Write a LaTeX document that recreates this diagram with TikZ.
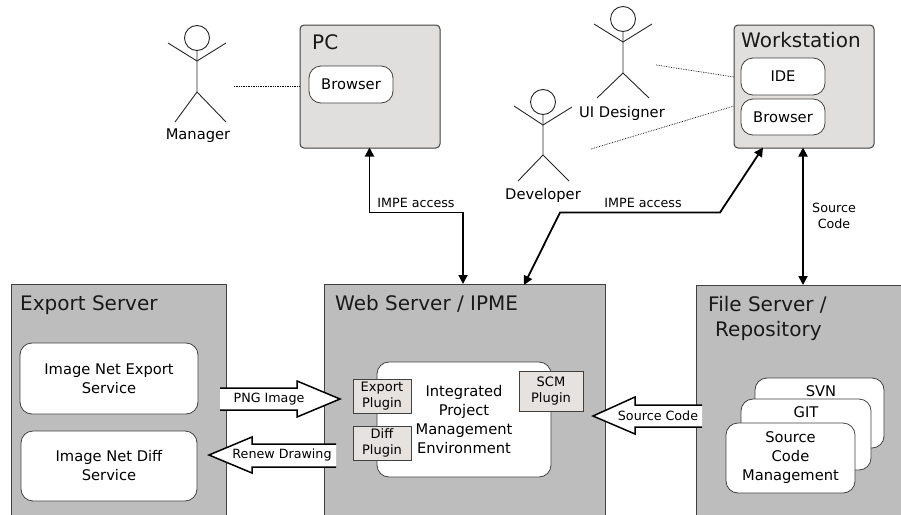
\documentclass[tikz,border=0pt]{standalone}
\usepackage{fontspec}
\setmainfont{DejaVu Sans}
\usetikzlibrary{arrows.meta}
\definecolor{outerfill}{HTML}{BDBDBD}
\definecolor{innerfill}{HTML}{E0DFDD}
\definecolor{plugfill}{HTML}{E6E2E0}
\definecolor{edge}{HTML}{404040}
\tikzset{
  base/.style={inner sep=0pt,outer sep=0pt,anchor=north west,align=center,draw=edge},
  server/.style={base,fill=outerfill,line width=1pt},
  machine/.style={base,fill=innerfill,line width=1pt,rounded corners=4pt},
  service/.style={base,fill=white,line width=0.8pt,rounded corners=12pt,font=\fontsize{14.7}{19}\selectfont},
  plugin/.style={base,fill=plugfill,line width=0.8pt,font=\fontsize{13}{16.5}\selectfont},
  title/.style={inner sep=0pt,anchor=west,align=left,font=\fontsize{20}{25}\selectfont,text=black!90},
  small/.style={inner sep=0pt,align=center,font=\fontsize{12.7}{16.5}\selectfont},
  actorname/.style={inner sep=0pt,font=\fontsize{14.7}{18}\selectfont},
  link/.style={line width=1.8pt,{Triangle[width=9pt,length=9pt]}-{Triangle[width=9pt,length=9pt]}},
  dots/.style={densely dotted,line width=0.7pt},
  limb/.style={line width=0.9pt,draw=black!85},
  block/.style={draw=black,fill=white,line width=1.5pt,line join=miter}
}
\begin{document}
\begin{tikzpicture}[x=1pt,y=-1pt]
\useasboundingbox (0,0) rectangle (901,514);
\clip (0,0) rectangle (901,514);
% servers
\node[server,minimum width=215pt,minimum height=250pt] (exportsrv) at (11,284) {};
\node[server,minimum width=281pt,minimum height=250pt] (websrv) at (324,284) {};
\node[server,minimum width=225pt,minimum height=250pt] (filesrv) at (696,285) {};
\node[title] (exporttitle) at (20,305) {Export Server};
\node[title] (webtitle) at (335,304) {Web Server / IPME};
\node[title] (filetitle) at (708,305) {File Server /};
\node[title] (filetitleb) at (715,331) {Repository};
% export services
\node[service,minimum width=178pt,minimum height=71pt] (exportsvc) at (20,343) {Image Net Export\\Service};
\node[service,minimum width=176pt,minimum height=70pt] (diffsvc) at (21,431) {Image Net Diff\\Service};
% web
\node[service,minimum width=174pt,minimum height=115pt] (ipme) at (377,362) {Integrated\\Project\\Management\\Environment};
\node[plugin,minimum width=58pt,minimum height=34pt] (exportplug) at (353,379) {Export\\Plugin};
\node[plugin,minimum width=58pt,minimum height=34pt] (diffplug) at (353,426) {Diff\\Plugin};
\node[plugin,minimum width=64pt,minimum height=40pt] (scmplug) at (519,371) {SCM\\Plugin};
% file server
\node[service,minimum width=129pt,minimum height=70pt] (svn) at (755,378) {};
\node[inner sep=0pt,font=\fontsize{14.7}{19}\selectfont] (svnlabel) at (821,391) {SVN};
\node[service,minimum width=130pt,minimum height=71pt] (git) at (741,399) {};
\node[inner sep=0pt,font=\fontsize{14.7}{19}\selectfont] (gitlabel) at (806,412) {GIT};
\node[service,minimum width=129pt,minimum height=70pt] (scm) at (726,423) {Source\\Code\\Management};
% machines
\node[machine,minimum width=140pt,minimum height=123pt] (pc) at (300,25) {};
\node[title] (pctitle) at (312,42) {PC};
\node[service,minimum width=84pt,minimum height=37pt] (pcbrowser) at (309,66) {Browser};
\node[machine,minimum width=140pt,minimum height=123pt] (ws) at (734,25) {};
\node[title] (wstitle) at (741,40) {Workstation};
\node[service,minimum width=84pt,minimum height=37pt] (ide) at (741,58) {IDE};
\node[service,minimum width=84pt,minimum height=36pt] (wsbrowser) at (741,99) {Browser};
% actors
\node[limb,circle,draw,minimum size=25pt,inner sep=0pt] (mhead) at (197,38) {};
\coordinate (mj) at (197,61); \coordinate (mh) at (197,92);
\draw[limb] (mhead.south) -- (mj) -- (mh) -- (175,122);
\draw[limb] (mh) -- (226,122);
\draw[limb] (168,43) -- (mj) -- (226,43);
\node[actorname] (manager) at (198,136) {Manager};
\node[limb,circle,draw,minimum size=25pt,inner sep=0pt] (uhead) at (623,19) {};
\coordinate (uj) at (623,42); \coordinate (uh) at (623,73);
\draw[limb] (uhead.south) -- (uj) -- (uh) -- (597,98);
\draw[limb] (uh) -- (649,98);
\draw[limb] (594,24) -- (uj) -- (652,24);
\node[actorname] (uidesigner) at (622,113) {UI Designer};
\node[limb,circle,draw,minimum size=25pt,inner sep=0pt] (dhead) at (543,102) {};
\coordinate (dj) at (543,125); \coordinate (dh) at (543,155);
\draw[limb] (dhead.south) -- (dj) -- (dh) -- (518,181);
\draw[limb] (dh) -- (569,181);
\draw[limb] (514,106) -- (dj) -- (572,107);
\node[actorname] (developer) at (543,195) {Developer};
% dotted
\coordinate (mfree) at (234,86);
\coordinate (ufree) at (656,65);
\coordinate (dfree) at (591,149);
\draw[dots] (mfree) -- (pc.west |- mfree);
\draw[dots] (ufree) -- (734,77);
\draw[dots] (dfree) -- (734,106);
% links
\coordinate (pcout) at (369.5,147.5);
\coordinate (webin) at (463,284);
\coordinate (wsout) at (763,147.5);
\coordinate (webin2) at (524,285);
\coordinate (wsout2) at (803,147.5);
\coordinate (filein) at (803,285);
\draw[link] (pcout) -- (369.5,212.5) -- (463,212.5) -- (webin);
\draw[link] (wsout) -- (720,212.5) -- (560,212.5) -- (webin2);
\draw[link] (wsout2) -- (filein);
\node[small] (impe1) at (416,203) {IMPE access};
\node[small] (impe2) at (643,203) {IMPE access};
\node[small] (srccode) at (834,216) {Source\\Code};
% block arrows
\draw[block] (220,388) -- (297,388) -- (297,381) -- (340,399) -- (297,417) -- (297,410) -- (220,410);
\node[small] (png) at (269,399) {PNG Image};
\draw[block] (336,444) -- (252,444) -- (252,437) -- (209,455) -- (252,473) -- (252,467) -- (336,467);
\node[small] (renew) at (282,455) {Renew Drawing};
\draw[block] (702,405) -- (635,405) -- (635,397) -- (593,416) -- (635,434) -- (635,427) -- (702,427);
\node[small] (srcarrow) at (658,416) {Source Code};
\end{tikzpicture}
\end{document}
